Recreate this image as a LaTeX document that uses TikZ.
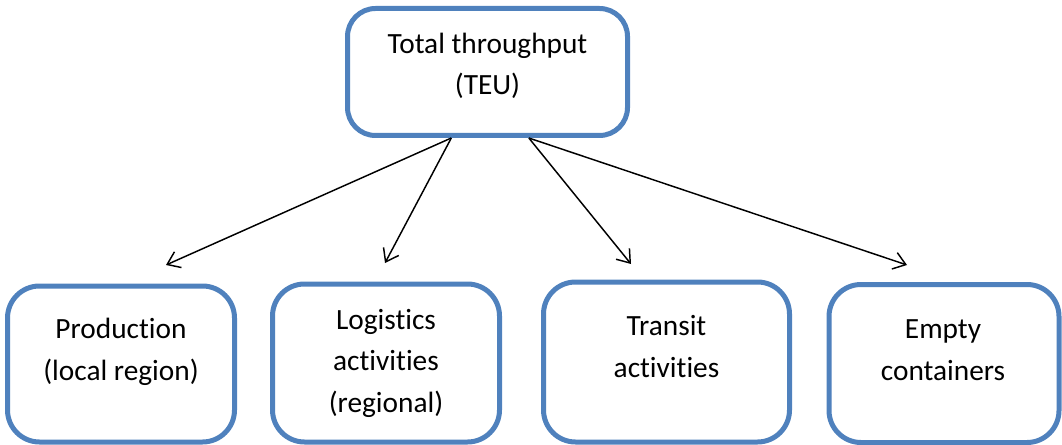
\documentclass[tikz,border=0pt]{standalone}
\usepackage{fontspec}
\setmainfont{Carlito}[Ligatures=NoCommon]
\usetikzlibrary{arrows.meta,calc}
\definecolor{boxblue}{RGB}{79,129,189}
\tikzset{
  px/.style={x=0.75pt,y=-0.75pt},
  blockbox/.style={draw=boxblue,line width=3.75pt,rounded corners=#1,fill=white,inner sep=0pt},
  blockbox/.default=24pt,
  lbl/.style={align=center,anchor=base,inner sep=0pt,font=\fontsize{22pt}{31pt}\selectfont},
  conn/.style={line width=1.1pt,-{Straight Barb[angle=72:11pt,line width=1.1pt]}},
}
\begin{document}
\begin{tikzpicture}[px]
\useasboundingbox (0,0) rectangle (1062,445);
% boxes (stroke centre lines)
\node[blockbox=21pt,minimum width=210pt,minimum height=95.25pt] (top) at (487.5,72) {};
\node[blockbox,minimum width=170.25pt,minimum height=117pt] (b1) at (121,364) {};
\node[blockbox,minimum width=170.25pt,minimum height=118.5pt] (b2) at (386,363) {};
\node[blockbox,minimum width=184.5pt,minimum height=120pt] (b3) at (666.5,362) {};
\node[blockbox,minimum width=172.5pt,minimum height=118.5pt] (b4) at (944,363.5) {};
% texts (anchored at the baseline of their last line)
\node[lbl] (ttop) at (487.5,95) {Total throughput\\(TEU)};
\node[lbl] (t1) at (121,380) {Production\\(local region)};
\node[lbl] (t2) at (386,412) {Logistics\\activities\\(regional)};
\node[lbl] (t3) at (666.5,377) {Transit\\activities};
\node[lbl] (t4) at (943,380) {Empty\\containers};
% connector ends
\coordinate (sl) at ($(top.south west)!0.373!(top.south east)$);
\coordinate (sr) at ($(top.south west)!0.645!(top.south east)$);
\coordinate (e1) at (166,265);
\coordinate (e2) at (385,263);
\coordinate (e3) at (631,264);
\coordinate (e4) at (907,265);
\draw[conn] (sl) -- (e1);
\draw[conn] (sl) -- (e2);
\draw[conn] (sr) -- (e3);
\draw[conn] (sr) -- (e4);
\end{tikzpicture}
\end{document}
